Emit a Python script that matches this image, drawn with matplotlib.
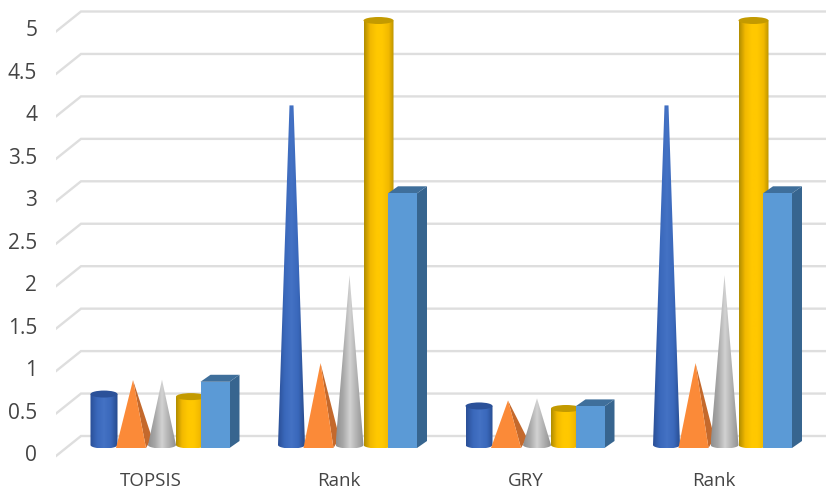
import numpy as np
import matplotlib
matplotlib.use('Agg')
import matplotlib.pyplot as plt
from matplotlib.colors import LinearSegmentedColormap
from matplotlib.patches import Ellipse, Polygon, PathPatch
from matplotlib.path import Path
from matplotlib.transforms import ScaledTranslation

categories = ['TOPSIS', 'Rank', 'GRY', 'Rank']
blue_values = [0.6, 4, 0.46, 4]
blue_shapes = ['cylinder', 'cone', 'cylinder', 'cone']
orange_values = [0.8, 1, 0.56, 1]
grey_values = [0.77, 2, 0.55, 2]
yellow_values = [0.57, 5, 0.43, 5]
sky_values = [0.78, 3, 0.49, 3]
y_ticks = [0, 0.5, 1, 1.5, 2, 2.5, 3, 3.5, 4, 4.5, 5]
y_tick_labels = ['0', '0.5', '1', '1.5', '2', '2.5', '3', '3.5', '4', '4.5', '5']

# size of one pixel in data units
PX = 1 / 187.5
PY = 1 / 84.9
OFFSETS = np.array([-58, -31, 0, 29, 53]) * PX
WIDTHS = np.array([27, 30, 28, 30, 29]) * PX
ROUND_DROP = 3 * PY
RY = 3.5 * PY

BLUE = ['#2a4f96', '#3a68bb', '#4472c4', '#3a68bb', '#264a8c']
GREY = ['#8f8f8f', '#a8a8a8', '#d2d2d2', '#b0b0b0', '#909090']
YELLOW = ['#b08c00', '#f2b900', '#ffc800', '#ffc800', '#f2b900', '#b08c00']

fig = plt.figure(figsize=(8.26, 4.93), dpi=100)
ax = fig.add_axes([56 / 826, 33 / 493, 770 / 826, 460 / 493])
x_left = -106 * PX
x_right = 664 * PX
y_low = -12 * PY
y_top = 448 * PY


def shaded(patch_path, x0, x1, y0, y1, colors, z):
    cmap = LinearSegmentedColormap.from_list('shade', colors)
    clip = PathPatch(patch_path, facecolor='none', edgecolor='none', transform=ax.transData)
    ax.add_patch(clip)
    grad = np.linspace(0, 1, 128).reshape(1, -1)
    im = ax.imshow(grad, cmap=cmap, extent=(x0, x1, y0, y1), aspect='auto',
                   interpolation='bilinear', zorder=z)
    im.set_clip_path(clip)


def base_arc(xc, half, y, n=30):
    t = np.linspace(np.pi, 2 * np.pi, n)
    return np.column_stack([xc + half * np.cos(t), y + RY * np.sin(t)])


def cylinder(xc, width, value, colors, top_color, z):
    half = width / 2
    y_base = ROUND_DROP
    y_tip = y_base + value
    pts = np.vstack([base_arc(xc, half, y_base), [[xc + half, y_tip], [xc - half, y_tip]]])
    shaded(Path(np.vstack([pts, pts[0]]), closed=True), xc - half, xc + half, y_base - RY, y_tip, colors, z)
    ax.add_patch(Ellipse((xc, y_tip), width, 2 * RY, facecolor=top_color, edgecolor='none', zorder=z + 0.1))


def cone(xc, width, value, colors, z, tip=0.0):
    half = width / 2
    y_base = ROUND_DROP
    y_tip = y_base + value
    pts = np.vstack([base_arc(xc, half, y_base), [[xc + tip, y_tip], [xc - tip, y_tip]]])
    shaded(Path(np.vstack([pts, pts[0]]), closed=True), xc - half, xc + half, y_base - RY, y_tip, colors, z)


def pyramid(xc, width, value, z):
    half = width / 2
    tip = (xc + 2 * PX, value)
    ax.add_patch(Polygon([(xc + half, 0), (xc + half + 6 * PX, 10 * PY), tip],
                         facecolor='#c4692c', edgecolor='none', zorder=z))
    ax.add_patch(Polygon([(xc - half, 0), (xc + half, 0), tip],
                         facecolor='#fb8a38', edgecolor='none', zorder=z + 0.1))


def box(xc, width, value, z):
    left = xc - width / 2
    right = xc + width / 2
    dx = 10 * PX
    dy = 7 * PY
    ax.add_patch(Polygon([(right, 0), (right + dx, dy), (right + dx, value + dy), (right, value)],
                         facecolor='#37658f', edgecolor='none', zorder=z))
    ax.add_patch(Polygon([(left, value), (right, value), (right + dx, value + dy), (left + dx, value + dy)],
                         facecolor='#3f6f9b', edgecolor='none', zorder=z))
    ax.add_patch(Polygon([(left, 0), (right, 0), (right, value), (left, value)],
                         facecolor='#5b9ad6', edgecolor='none', zorder=z + 0.1))


# back wall grid lines with the short diagonal on the floor side
for v in y_ticks:
    ax.plot([x_left, x_left + 25 * PX, x_right],
            [v - 8 * PY, v + 12 * PY, v + 12 * PY],
            color='#dedede', lw=1.7, solid_joinstyle='miter', zorder=1)

for i in range(len(categories)):
    z = 2 + i * 10
    if blue_shapes[i] == 'cylinder':
        cylinder(i + OFFSETS[0], WIDTHS[0], blue_values[i], BLUE, '#2b5199', z)
    else:
        cone(i + OFFSETS[0], WIDTHS[0], blue_values[i], BLUE, z, tip=2 * PX)
    pyramid(i + OFFSETS[1], WIDTHS[1], orange_values[i], z + 1)
    cone(i + OFFSETS[2], WIDTHS[2], grey_values[i], GREY, z + 2)
    cylinder(i + OFFSETS[3], WIDTHS[3], yellow_values[i], YELLOW, '#c39a00', z + 3)
    box(i + OFFSETS[4], WIDTHS[4], sky_values[i], z + 4)

ax.set_xlim(x_left, x_right)
ax.set_ylim(y_low, y_top)
for s in ax.spines.values():
    s.set_visible(False)

ax.set_yticks(y_ticks)
ax.set_yticklabels(y_tick_labels, fontsize=15, family='Open Sans', color='#444444')
ax.set_xticks(range(len(categories)))
ax.set_xticklabels(categories, fontsize=13.5, family='Open Sans', color='#444444')
ax.tick_params(axis='both', length=0)
ax.tick_params(axis='y', pad=13.5)
ax.tick_params(axis='x', pad=9)
for lab in ax.get_yticklabels():
    lab.set_transform(lab.get_transform() + ScaledTranslation(0, -0.05, fig.dpi_scale_trans))
for lab in ax.get_xticklabels():
    lab.set_transform(lab.get_transform() + ScaledTranslation(-0.11, 0, fig.dpi_scale_trans))

fig.savefig('out.png', dpi=100)
